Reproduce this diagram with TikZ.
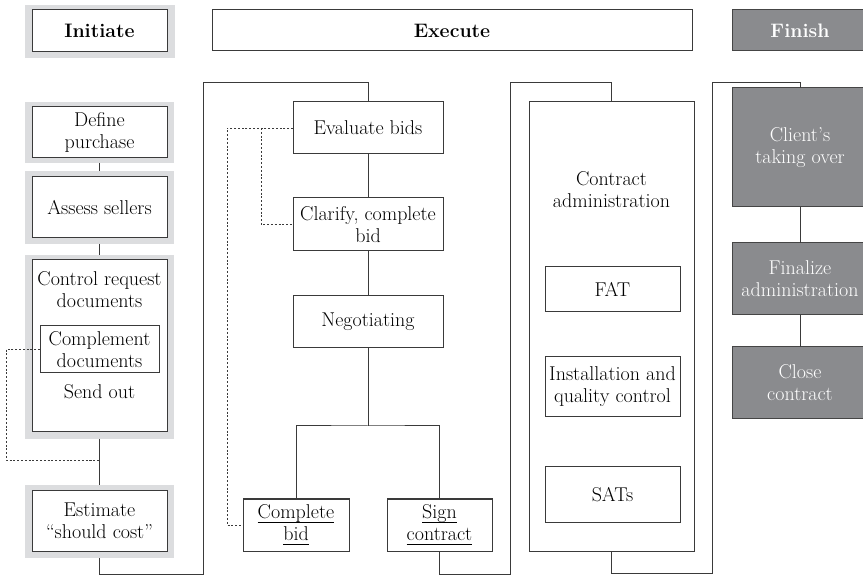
\documentclass[tikz,border=0pt]{standalone}
\usepackage{fontspec}
\definecolor{lineC}{HTML}{3A3A3A}
\definecolor{frameG}{HTML}{DCDDDF}
\definecolor{darkG}{HTML}{8A8B8E}
\definecolor{darkL}{HTML}{454545}
\newcommand{\myuline}[1]{\setbox0\hbox{#1}\rlap{\vrule height -3.6pt depth 4.5pt width\wd0}\box0}
\tikzset{
  base/.style={inner sep=0pt, outer sep=0pt, align=center, font=\fontsize{20}{22}\selectfont},
  wbox/.style={base, draw=lineC, fill=white, line width=1pt},
  gframe/.style={base, fill=frameG, draw=none},
  dbox/.style={base, fill=darkG, draw=darkL, line width=1pt, text=white},
  hdr/.style={font=\fontsize{19.5}{22}\selectfont\bfseries},
  conn/.style={draw=lineC, line width=1pt},
  dots/.style={draw=lineC, line width=0.9pt, dash pattern=on 2pt off 1.8pt},
}
\begin{document}
\begin{tikzpicture}[x=1pt,y=-1pt]
\useasboundingbox (0,0) rectangle (863,577);
\clip (0,0) rectangle (863,577);

% ---------- headers ----------
\node[gframe, minimum width=150pt, minimum height=53pt] (initG) at (100,31.5) {};
\node[wbox, hdr, minimum width=135pt, minimum height=42pt] (init) at (99.5,31) {Initiate};
\node[wbox, hdr, minimum width=480pt, minimum height=41pt] (exec) at (452,30.5) {Execute};
\node[dbox, hdr, minimum width=136pt, minimum height=41pt] (fin) at (800,30.5) {Finish};

% ---------- Initiate column ----------
\node[gframe, minimum width=149pt, minimum height=61pt] (defG) at (99.5,132.5) {};
\node[wbox, minimum width=135pt, minimum height=51pt] (def) at (99.5,132.5) {Define\\purchase};

\node[gframe, minimum width=149pt, minimum height=73pt] (assG) at (99.5,207.5) {};
\node[wbox, minimum width=135pt, minimum height=61pt] (ass) at (99.5,207.5) {Assess sellers};

\node[gframe, minimum width=149pt, minimum height=184pt] (ctlG) at (99.5,347) {};
\node[wbox, minimum width=135pt, minimum height=172pt] (ctl) at (99.5,346) {};
\node[base] (ctlT) at (99.5,290) {Control request\\documents};
\node[wbox, minimum width=119pt, minimum height=47pt] (comp) at (99.5,349.5) {Complement\\documents};
\node[base] (send) at (99.5,392) {Send out};

\node[gframe, minimum width=149pt, minimum height=73pt] (estG) at (99.5,521.5) {};
\node[wbox, minimum width=135pt, minimum height=60pt] (est) at (99.5,521) {Estimate\\``should cost''};

\draw[conn] (defG.south) -- (assG.north);
\draw[conn] (assG.south) -- (ctlG.north);
\draw[conn] (ctlG.south) -- (estG.north);
\coordinate (j1) at (99.5,460);
\draw[dots] (comp.west) -- ++(-34,0) |- (j1);

% ---------- Execute: procurement ----------
\node[wbox, minimum width=150pt, minimum height=52pt] (eval) at (368,128) {Evaluate bids};
\node[wbox, minimum width=150pt, minimum height=53pt] (clar) at (368,224.5) {Clarify, complete\\bid};
\node[wbox, minimum width=150pt, minimum height=52pt] (neg) at (368,322) {Negotiating};
\node[wbox, minimum width=106pt, minimum height=52pt] (cbid) at (296,525) {\myuline{Complete}\\\myuline{bid}};
\node[wbox, minimum width=105pt, minimum height=52pt] (sign) at (439.5,525) {\myuline{Sign}\\\myuline{contract}};

\draw[conn] (eval.south) -- (clar.north);
\draw[conn] (clar.south) -- (neg.north);
\coordinate (br) at (368,426);
\draw[conn] (neg.south) -- (br);
\draw[conn] (cbid.north) |- (br) -| (sign.north);

\coordinate (dl) at (227,525);
\coordinate (d2) at (261,128);
\draw[dots] (eval.west) -| (dl) -- (cbid.west);
\draw[dots] (d2) |- (clar.west);

% loop from Initiate to Execute
\coordinate (fa) at (203,574);
\coordinate (fb) at (203,83);
\draw[conn] (estG.south) |- (fa) -- (fb) -| (eval.north);

% ---------- Execute: contract administration ----------
\node[wbox, minimum width=165pt, minimum height=449pt] (adm) at (611.5,326.5) {};
\node[base] (admT) at (611.5,190) {Contract\\administration};
\node[wbox, minimum width=135pt, minimum height=45pt] (fat) at (612.5,289.5) {FAT};
\node[wbox, minimum width=135pt, minimum height=60pt] (inst) at (612.5,387) {Installation and\\quality control};
\node[wbox, minimum width=135pt, minimum height=55pt] (sats) at (612.5,494.5) {SATs};

\coordinate (ga) at (510,574);
\coordinate (gb) at (510,83);
\draw[conn] (sign.south) |- (ga) -- (gb) -| (adm.north);

% ---------- Finish column ----------
\node[dbox, minimum width=136pt, minimum height=119pt] (cli) at (800,147.5) {Client’s\\taking over};
\node[dbox, minimum width=136pt, minimum height=72pt] (finz) at (800,279) {Finalize\\administration};
\node[dbox, minimum width=136pt, minimum height=72pt] (close) at (800,383) {Close\\contract};
\draw[conn] (cli.south) -- (finz.north);
\draw[conn] (finz.south) -- (close.north);

\coordinate (ha) at (712,573);
\coordinate (hb) at (712,83);
\draw[conn] (adm.south) |- (ha) -- (hb) -| (cli.north);
\end{tikzpicture}
\end{document}
